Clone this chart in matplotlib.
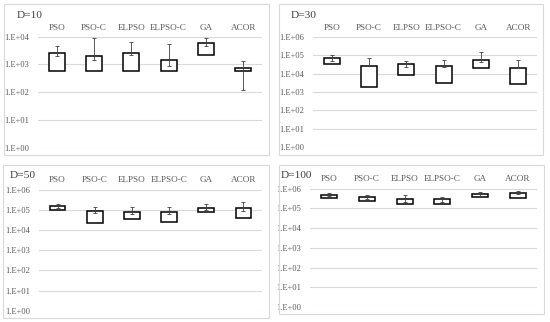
import matplotlib
matplotlib.use("Agg")
import matplotlib.pyplot as plt
from matplotlib.patches import Rectangle

algoritmos = ["PSO", "PSO-C", "ELPSO", "ELPSO-C", "GA", "ACOR"]

# caja: (inferior, superior); bigote: (inferior, superior)
caja_d10 = [(590, 2630), (590, 2000), (590, 2690), (590, 1480), (2190, 5750), (590, 720)]
bigote_d10 = [(2000, 4570), (1450, 8700), (2190, 6600), (870, 5250), (4680, 9120), (117, 1290)]

caja_d30 = [(31600, 66000), (1860, 26900), (8300, 31600), (3090, 25700), (20900, 53700), (2570, 20900)]
bigote_d30 = [(48000, 102000), (25700, 66000), (23400, 50100), (23400, 52500), (43000, 155000), (19000, 52500)]

caja_d50 = [(97700, 155000), (22400, 85100), (36300, 75900), (24000, 81300), (77600, 129000), (39800, 123000)]
bigote_d50 = [(129000, 195000), (67600, 138000), (60300, 138000), (64600, 145000), (97700, 186000), (87100, 251000)]

caja_d100 = [(347000, 479000), (240000, 380000), (166000, 309000), (162000, 288000), (363000, 513000), (347000, 603000)]
bigote_d100 = [(407000, 575000), (288000, 479000), (219000, 479000), (209000, 389000), (447000, 708000), (513000, 724000)]

W, H = 550, 322
fig = plt.figure(figsize=(W / 100, H / 100), dpi=100)
plt.rcParams["font.family"] = ["Liberation Serif", "DejaVu Serif"]
gris = "#595959"

paneles = [
    # titulo, cajas, bigotes, exponente max, borde (x0, y0, x1, y1), ejes (x0, y0, x1, y1), titulo xy, etiquetas y
    ("D=10", caja_d10, bigote_d10, 4, (4, 4, 269, 155), (38, 36.7, 262, 147.7), (17, 15), 28),
    ("D=30", caja_d30, bigote_d30, 6, (279, 4, 543, 155), (313, 36.7, 537, 147.3), (291, 15), 28),
    ("D=50", caja_d50, bigote_d50, 6, (3, 165, 269, 318), (39, 189.7, 262, 310.7), (10, 176), 180),
    ("D=100", caja_d100, bigote_d100, 6, (279, 165, 544, 314), (310, 188.7, 537, 307), (281, 175), 179),
]

for titulo, cajas, bigotes, emax, borde, ejes, pos_t, y_etq in paneles:
    bx0, by0, bx1, by1 = borde
    fig.patches.append(Rectangle((bx0 / W, 1 - by1 / H), (bx1 - bx0) / W, (by1 - by0) / H,
                                 transform=fig.transFigure, fill=False,
                                 edgecolor="#d9d9d9", linewidth=0.8))
    ax0, ay0, ax1, ay1 = ejes
    ax = fig.add_axes([ax0 / W, 1 - ay1 / H, (ax1 - ax0) / W, (ay1 - ay0) / H])
    ax.set_yscale("log")
    ax.set_ylim(1, 10 ** emax)
    ax.set_xlim(-0.5, len(algoritmos) - 0.5)
    ticks = [10 ** e for e in range(emax + 1)]
    ax.set_yticks(ticks)
    ax.set_yticklabels(["1.E+%02d" % e for e in range(emax + 1)], fontsize=6.1, color=gris)
    ax.minorticks_off()
    ax.tick_params(axis="y", length=0, pad=6.5)
    ax.set_xticks([])
    for s in ax.spines.values():
        s.set_visible(False)
    for t in ticks:
        ax.axhline(t, color="#d9d9d9", linewidth=0.8, zorder=0)
    for i, ((c0, c1), (b0, b1)) in enumerate(zip(cajas, bigotes)):
        ax.bar(i, c1 - c0, bottom=c0, width=0.42, facecolor="white",
               edgecolor="black", linewidth=1.1, zorder=2)
        ax.vlines(i, b0, b1, color="#404040", linewidth=0.6, zorder=3)
        ax.plot([i, i], [b0, b1], linestyle="none", marker="_", markersize=3,
                markeredgewidth=0.6, color="#404040", zorder=3)
        xf = (ax0 + (i + 0.5) * (ax1 - ax0) / len(algoritmos)) / W
        fig.text(xf, 1 - y_etq / H, algoritmos[i], ha="center", va="center",
                 fontsize=6.6, color=gris)
    fig.text(pos_t[0] / W, 1 - pos_t[1] / H, titulo, ha="left", va="center",
             fontsize=8.2, color="#404040")

fig.savefig("out.png", dpi=100, facecolor="white")
